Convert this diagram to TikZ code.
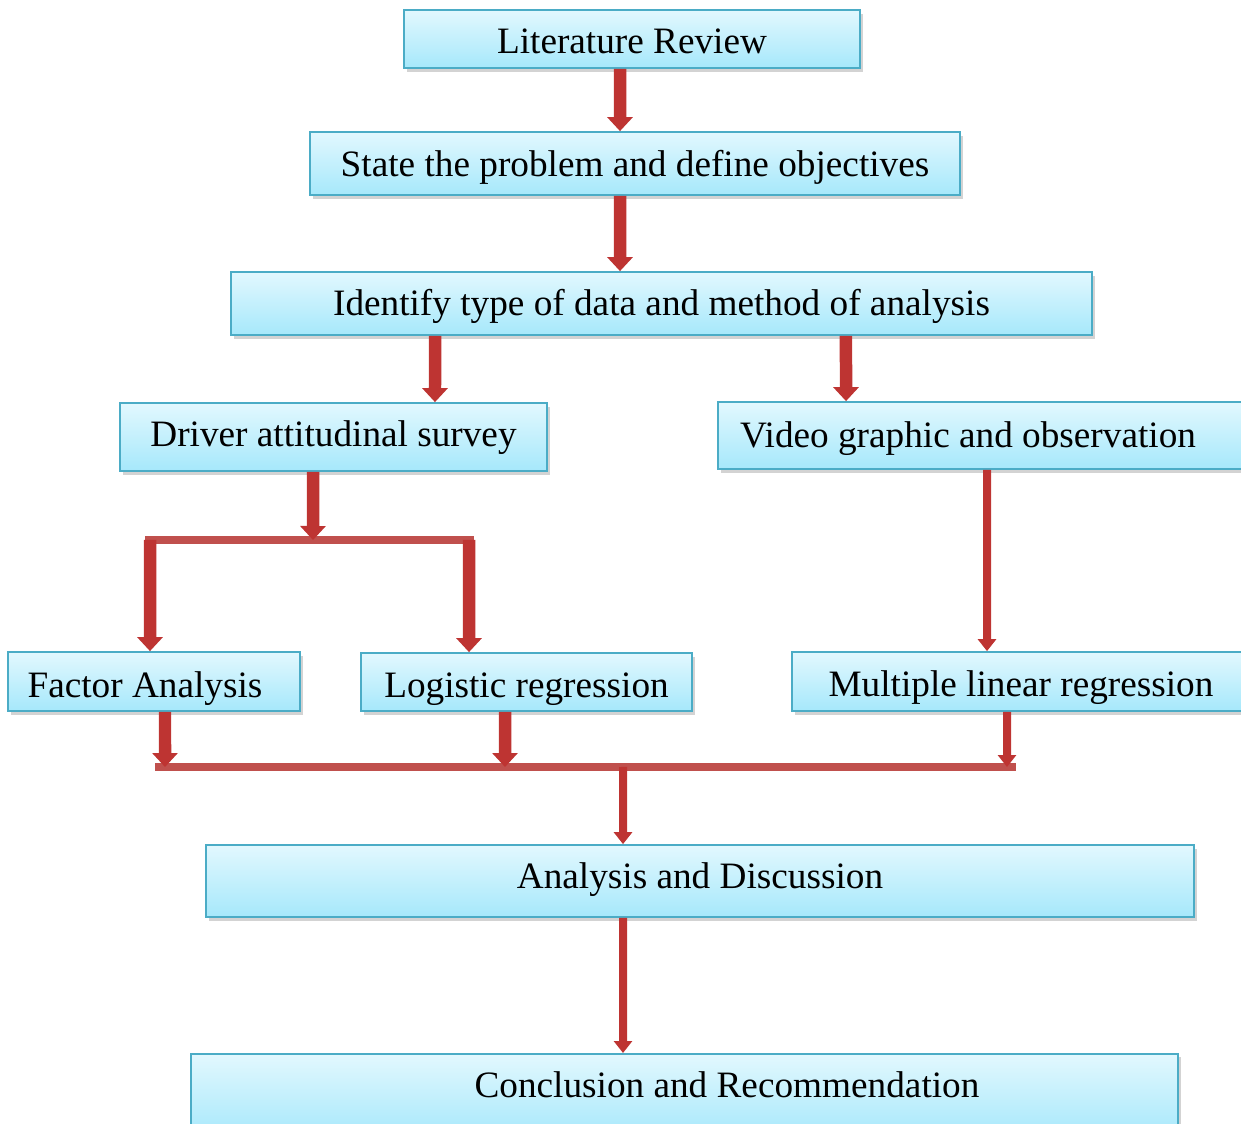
\documentclass[tikz,border=0pt]{standalone}
\usepackage{fontspec}
\setmainfont{Liberation Serif}
\usepackage{tikz}
\usetikzlibrary{arrows.meta,shadows}

\definecolor{boxline}{RGB}{75,172,198}
\definecolor{boxtop}{RGB}{226,248,254}
\definecolor{boxbot}{RGB}{166,232,251}
\definecolor{arrowred}{RGB}{190,52,50}
\definecolor{barred}{RGB}{192,80,77}

\begin{document}
\begin{tikzpicture}[x=0.02cm, y=-0.02cm,
    box/.style={rectangle, draw=boxline, line width=1pt, top color=boxtop, bottom color=boxbot,
        drop shadow={shadow xshift=1.5pt, shadow yshift=-2pt, opacity=0.35},
        font=\fontsize{21.2}{25}\selectfont, inner sep=0pt, text height=0.5cm, text depth=0.1cm},
    bigarrow/.style={draw=arrowred, line width=0.25cm, -{Triangle[width=0.5cm,length=0.28cm]}},
    thinarrow/.style={draw=arrowred, line width=0.16cm, -{Triangle[width=0.36cm,length=0.24cm]}},
    bar/.style={draw=barred, line width=0.17cm}]
            \useasboundingbox (0,0) rectangle (1241,1124);
            % Nodes
            \node[box, minimum width=9.12cm, minimum height=1.16cm] (lit) at (632,39) {\raisebox{-0.10cm}{Literature Review}};
            \node[box, minimum width=13cm, minimum height=1.26cm] (state) at (635,163.5) {\raisebox{-0.06cm}{State the problem and define objectives}};
            \node[box, minimum width=17.22cm, minimum height=1.26cm] (ident) at (661.5,303.5) {\raisebox{-0.05cm}{Identify type of data and method of analysis}};
            \node[box, minimum width=8.54cm, minimum height=1.36cm] (driver) at (333.5,437) {Driver attitudinal survey};
            \node[box, minimum width=10.64cm, minimum height=1.34cm] (video) at (984,435.5) {\raisebox{-0.04cm}{Video graphic and observation}\hspace*{0.64cm}};
            \node[box, minimum width=5.84cm, minimum height=1.18cm] (factor) at (154,681.5) {\raisebox{-0.12cm}{Factor Analysis}\hspace*{0.36cm}};
            \node[box, minimum width=6.62cm, minimum height=1.16cm] (logit) at (526.5,682) {\raisebox{-0.12cm}{Logistic regression}};
            \node[box, minimum width=9.16cm, minimum height=1.18cm] (mlr) at (1021,681.5) {\raisebox{-0.11cm}{Multiple linear regression}};
            \node[box, minimum width=19.76cm, minimum height=1.44cm] (disc) at (700,881) {\raisebox{0.04cm}{Analysis and Discussion}};
            \node[box, anchor=north, minimum width=19.74cm, minimum height=1.7cm] (concl) at (684.5,1053) {\hspace*{1.7cm}\raisebox{0.17cm}{Conclusion and Recommendation}};
            % Junctions
            \coordinate (jd) at (313,540);
            \coordinate (jl) at (150,540);
            \coordinate (jr) at (469,540);
            \coordinate (jf) at (165,767);
            \coordinate (jg) at (505,767);
            \coordinate (jm) at (1007,767);
            \coordinate (jc) at (623,767);
            % Bars
            \draw[bar] (145,540) -- (474,540);
            \draw[bar] (155,767) -- (1016,767);
            % Arrows
            \draw[bigarrow] ([xshift=-0.24cm]lit.south) -- ([xshift=-0.30cm]state.north);
            \draw[bigarrow] ([xshift=-0.30cm]state.south) -- ([xshift=-0.83cm]ident.north);
            \draw[bigarrow] ([xshift=-4.53cm]ident.south) -- ([xshift=2.03cm]driver.north);
            \draw[bigarrow] ([xshift=3.69cm]ident.south) -- ([xshift=-2.76cm]video.north);
            \draw[bigarrow] ([xshift=-0.41cm]driver.south) -- (jd);
            \draw[bigarrow] (jl) -- ([xshift=-0.08cm]factor.north);
            \draw[bigarrow] (jr) -- ([xshift=-1.15cm]logit.north);
            \draw[thinarrow] ([xshift=0.06cm]video.south) -- ([xshift=-0.68cm]mlr.north);
            \draw[bigarrow] ([xshift=0.22cm]factor.south) -- (jf);
            \draw[bigarrow] ([xshift=-0.43cm]logit.south) -- (jg);
            \draw[thinarrow] ([xshift=-0.28cm]mlr.south) -- (jm);
            \draw[thinarrow] (jc) -- ([xshift=-1.54cm]disc.north);
            \draw[thinarrow] ([xshift=-1.54cm]disc.south) -- ([xshift=-1.23cm]concl.north);
        \end{tikzpicture}
\end{document}
